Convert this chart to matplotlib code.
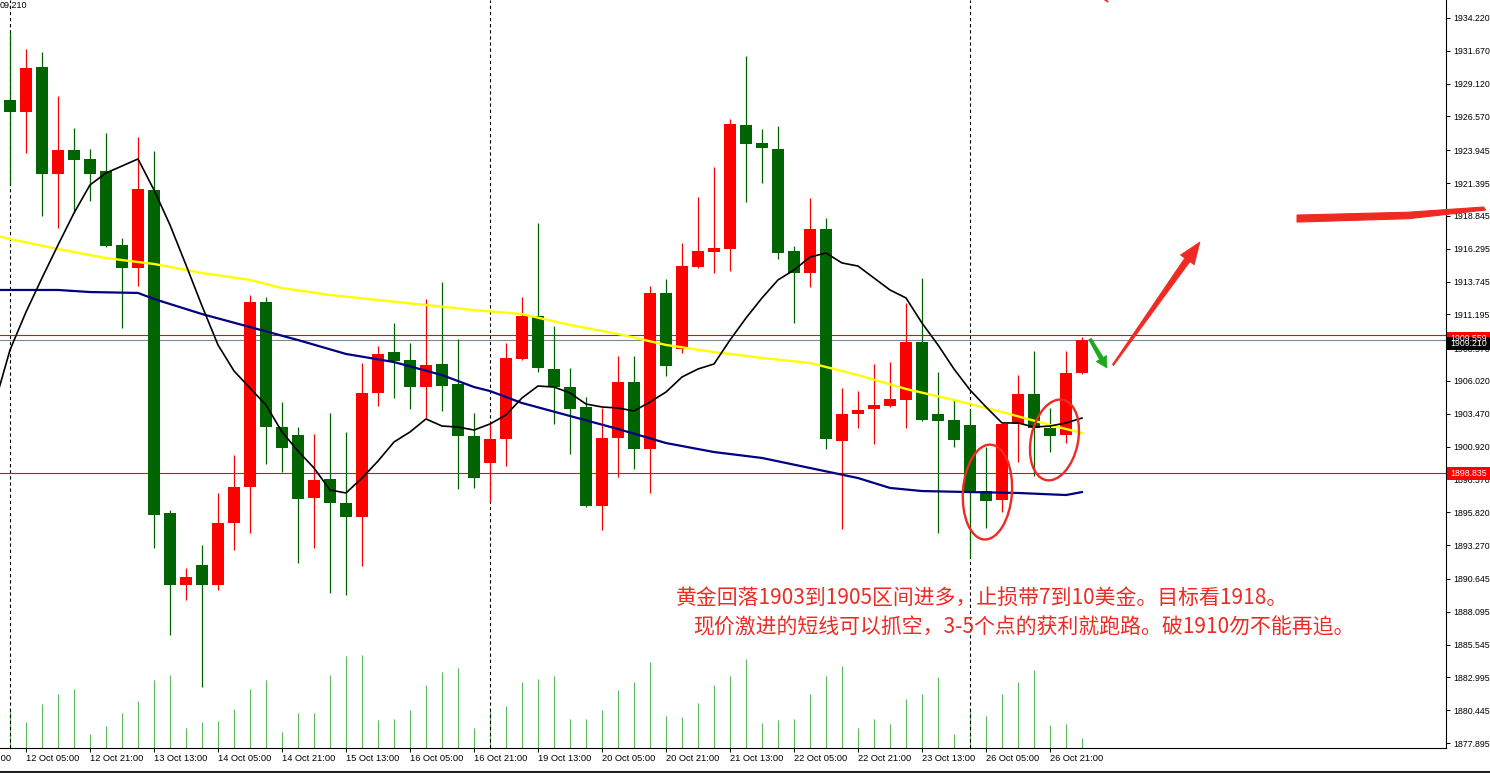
import matplotlib
matplotlib.use("Agg")
import matplotlib.pyplot as plt
from matplotlib.patches import Ellipse, Polygon, Rectangle
from matplotlib.lines import Line2D
from matplotlib.transforms import IdentityTransform, blended_transform_factory
import numpy as np

plt.rcParams['font.family'] = ['Liberation Sans', 'Noto Sans CJK SC', 'DejaVu Sans']

# ---------------- data (XAUUSD H4, 12 Oct 01:00 .. 27 Oct 05:00) ----------------
open_ = [1927.85, 1926.92, 1930.41, 1922.10, 1923.97, 1923.27, 1922.33, 1916.59, 1914.80, 1920.86,
         1895.77, 1890.17, 1891.72, 1890.17, 1894.99, 1897.79, 1912.16, 1902.44, 1901.82, 1896.93,
         1898.41, 1896.54, 1895.45, 1905.09, 1908.27, 1907.65, 1905.55, 1907.34, 1905.79, 1901.75,
         1899.65, 1901.51, 1907.73, 1911.07, 1906.95, 1905.55, 1904.00, 1896.31, 1901.59, 1905.94,
         1900.74, 1912.86, 1908.51, 1914.88, 1916.04, 1916.27, 1925.91, 1924.51, 1924.04, 1916.12,
         1914.41, 1917.83, 1901.36, 1903.46, 1903.84, 1904.08, 1904.54, 1909.05, 1903.46, 1903.00,
         1902.60, 1897.47, 1896.77, 1902.68, 1905.01, 1902.37, 1901.82, 1906.64]
high = [1933.13, 1931.81, 1931.58, 1928.16, 1925.67, 1924.04, 1925.29, 1917.13, 1924.98, 1923.89,
        1896.00, 1891.49, 1893.27, 1897.32, 1900.27, 1912.70, 1912.55, 1904.39, 1902.44, 1901.90,
        1903.53, 1902.06, 1907.42, 1908.74, 1910.53, 1908.97, 1912.39, 1913.71, 1909.28, 1903.53,
        1902.76, 1908.97, 1912.55, 1918.29, 1910.29, 1907.03, 1904.77, 1903.92, 1907.96, 1907.96,
        1913.40, 1913.94, 1916.74, 1920.32, 1922.64, 1926.37, 1931.27, 1925.60, 1925.83, 1916.51,
        1920.24, 1918.68, 1905.48, 1905.24, 1907.34, 1907.49, 1912.08, 1914.02, 1906.72, 1904.54,
        1903.84, 1900.89, 1902.68, 1906.49, 1908.35, 1903.92, 1908.35, 1909.44]
low = [1921.25, 1923.73, 1918.84, 1917.91, 1919.07, 1920.00, 1916.43, 1910.14, 1913.40, 1893.04,
       1886.29, 1889.01, 1882.25, 1889.78, 1892.89, 1894.21, 1899.57, 1898.95, 1891.88, 1893.04,
       1889.55, 1889.40, 1891.65, 1904.08, 1904.70, 1903.84, 1903.15, 1903.69, 1897.63, 1897.71,
       1896.62, 1899.42, 1907.65, 1906.72, 1902.68, 1900.35, 1896.20, 1894.44, 1898.56, 1899.18,
       1897.32, 1906.41, 1908.20, 1914.80, 1914.41, 1914.57, 1919.93, 1921.40, 1915.50, 1910.53,
       1913.32, 1900.74, 1894.52, 1902.37, 1901.13, 1904.00, 1902.37, 1902.90, 1894.21, 1900.89,
       1892.27, 1894.60, 1895.84, 1899.73, 1898.64, 1900.50, 1901.20, 1906.60]
close = [1926.92, 1930.34, 1922.10, 1923.97, 1923.19, 1922.10, 1916.51, 1914.80, 1920.94, 1895.61,
         1890.17, 1890.79, 1890.17, 1894.99, 1897.79, 1912.16, 1902.44, 1900.81, 1896.85, 1898.33,
         1896.54, 1895.45, 1905.09, 1908.12, 1907.57, 1905.55, 1907.26, 1905.63, 1901.75, 1898.48,
         1901.51, 1907.81, 1911.07, 1907.03, 1905.55, 1903.84, 1896.31, 1901.59, 1905.94, 1900.74,
         1912.86, 1907.19, 1914.95, 1916.12, 1916.35, 1925.98, 1924.43, 1924.12, 1915.96, 1914.41,
         1917.83, 1901.51, 1903.46, 1903.77, 1904.15, 1904.62, 1909.05, 1903.00, 1902.91, 1901.44,
         1897.40, 1896.70, 1902.68, 1905.01, 1902.37, 1901.75, 1906.64, 1909.21]
volume = [38, 26, 44, 54, 59, 14, 22, 35, 47, 68, 73, 20, 26, 27, 39, 59, 68, 16, 35, 35,
          73, 92, 93, 28, 29, 38, 63, 76, 80, 20, 37, 42, 66, 69, 72, 29, 29, 38, 58, 66,
          86, 32, 31, 45, 63, 72, 89, 25, 28, 29, 54, 72, 82, 20, 29, 24, 49, 54, 71, 14,
          38, 32, 54, 66, 78, 23, 24, 10]

# fast moving average (black), bars -1 .. 67
ma_fast_bars = list(range(-1, 68))
ma_fast = [1904.08,
           1908.43, 1911.38, 1914.02, 1916.58, 1919.07, 1921.25, 1922.18, 1922.72, 1923.27, 1920.86,
           1918.14, 1915.03, 1911.85, 1908.82, 1906.80, 1905.47, 1904.15, 1902.06, 1900.58, 1899.26,
           1897.55, 1897.32, 1898.48, 1899.80, 1901.28, 1902.06, 1903.07, 1902.52, 1902.44, 1902.21,
           1902.68, 1903.38, 1904.70, 1905.63, 1905.55, 1905.09, 1904.23, 1904.00, 1903.92, 1903.69,
           1904.39, 1905.16, 1906.33, 1906.95, 1907.34, 1909.20, 1910.91, 1912.47, 1913.87, 1914.64,
           1915.65, 1915.96, 1915.19, 1914.95, 1914.02, 1913.09, 1912.47, 1910.52, 1908.82, 1906.95,
           1905.32, 1904.00, 1902.76, 1902.76, 1902.44, 1902.52, 1902.76, 1903.14]

# slow moving average (yellow)
ma_yellow_bars = [-1, 0, 3, 6, 9, 12, 15, 17, 20, 23, 26, 29, 32, 35, 38, 41, 44, 47, 50, 53,
                  56, 59, 62, 65, 67]
ma_yellow = [1917.36, 1917.05, 1916.27, 1915.57, 1915.11, 1914.41, 1913.87, 1913.24, 1912.70,
             1912.31, 1911.92, 1911.53, 1911.22, 1910.37, 1909.67, 1908.82, 1908.27, 1907.81,
             1907.42, 1906.48, 1905.40, 1904.54, 1903.61, 1902.60, 1901.98]

# medium moving average (navy)
ma_navy_bars = [-1, 3, 5, 8, 9, 12, 15, 18, 21, 24, 27, 29, 30, 32, 35, 38, 41, 44, 47, 50,
                53, 55, 57, 60, 63, 66, 67]
ma_navy = [1913.09, 1913.09, 1912.93, 1912.86, 1912.39, 1911.22, 1910.21, 1909.20, 1908.12,
           1907.49, 1906.48, 1905.55, 1905.24, 1904.31, 1903.30, 1902.29, 1901.20, 1900.50,
           1900.04, 1899.26, 1898.48, 1897.71, 1897.47, 1897.39, 1897.32, 1897.16, 1897.39]

tick_bars = [-3, 1, 5, 9, 13, 17, 21, 25, 29, 33, 37, 41, 45, 49, 53, 57, 61, 65]
tick_labels = ["9 Oct 13:00", "12 Oct 05:00", "12 Oct 21:00", "13 Oct 13:00", "14 Oct 05:00",
               "14 Oct 21:00", "15 Oct 13:00", "16 Oct 05:00", "16 Oct 21:00", "19 Oct 13:00",
               "20 Oct 05:00", "20 Oct 21:00", "21 Oct 13:00", "22 Oct 05:00", "22 Oct 21:00",
               "23 Oct 13:00", "26 Oct 05:00", "26 Oct 21:00"]
price_ticks = [1934.220, 1931.670, 1929.120, 1926.570, 1923.945, 1921.395, 1918.845, 1916.295,
               1913.745, 1911.195, 1908.570, 1906.020, 1903.470, 1900.920, 1898.370, 1895.820,
               1893.270, 1890.645, 1888.095, 1885.545, 1882.995, 1880.445, 1877.895]
week_separators = [0, 30, 60]
ask_price = 1909.559
bid_price = 1909.210
level_price = 1898.835

note_lines = ["黄金回落1903到1905区间进多，止损带7到10美金。目标看1918。",
              "现价激进的短线可以抓空，3-5个点的获利就跑路。破1910勿不能再追。"]

# ---------------- styling ----------------
W, H, DPI = 1490, 773, 100
RED = '#ff0000'
GREEN = '#006400'
VOLC = '#5cb85c'
PEN = '#ee2a22'

fig = plt.figure(figsize=(W / DPI, H / DPI), dpi=DPI)
fig.patch.set_facecolor('white')
ax = fig.add_axes([0, 25 / H, 1446 / W, 748 / H])
ax.set_facecolor('white')
ax.set_xlim(-0.625, 89.75)
ax.set_ylim(1877.507, 1935.618)

for s in ('left', 'top'):
    ax.spines[s].set_visible(False)
for s in ('right', 'bottom'):
    ax.spines[s].set_color('black')
    ax.spines[s].set_linewidth(0.8)

o = np.array(open_); h = np.array(high); l = np.array(low); c = np.array(close)
x = np.arange(len(c))
cols = np.where(c >= o, RED, GREEN)

# volumes (overlay at the bottom, 1 unit = 1 px of axes height)
vtrans = blended_transform_factory(ax.transData, ax.transAxes)
ax.vlines(x, 0, np.array(volume) / 748.0, transform=vtrans, colors=VOLC, lw=0.8, zorder=1)

# separators
for b in week_separators:
    ax.axvline(b, color='black', lw=0.8, linestyle=(0, (3, 2.5)), zorder=1.5)

# horizontal lines
ax.axhline(ask_price, color=RED, lw=0.8, zorder=1.6)
ax.axhline(bid_price, color='#7a8a99', lw=0.8, zorder=1.6)
ax.axhline(level_price, color=RED, lw=0.8, zorder=1.6)

# candles
ax.vlines(x, l, h, colors=cols, lw=0.9, zorder=2)
body_lo = np.minimum(o, c)
body_h = np.maximum(np.abs(c - o), 0.09)
ax.bar(x, body_h, bottom=body_lo, width=0.7, color=cols, linewidth=0, zorder=3)

# moving averages
ax.plot(ma_yellow_bars, ma_yellow, color='#ffff00', lw=1.7, zorder=4, solid_joinstyle='round')
ax.plot(ma_navy_bars, ma_navy, color='#000080', lw=1.6, zorder=4, solid_joinstyle='round')
ax.plot(ma_fast_bars, ma_fast, color='black', lw=1.2, zorder=5, solid_joinstyle='round')

# axes ticks
ax.yaxis.tick_right()
ax.set_yticks(price_ticks)
ax.set_yticklabels([f"{v:.3f}" for v in price_ticks])
ax.tick_params(axis='y', direction='out', length=3, width=0.7, pad=2.5, labelsize=6.3, colors='black')
ax.set_xticks(tick_bars[1:])
ax.set_xticklabels(tick_labels[1:])
for t in ax.get_xticklabels():
    t.set_ha('left')
ax.tick_params(axis='x', direction='out', length=3, width=0.7, pad=1.2, labelsize=6.7, colors='black')
ax.annotate(tick_labels[0], xy=(tick_bars[0], 0), xycoords=ax.get_xaxis_transform(),
            xytext=(1, -4.2), textcoords='offset points', ha='left', va='top',
            fontsize=6.7, annotation_clip=False)

fig.canvas.draw()
ID = IdentityTransform()


def disp(bx, py):
    return ax.transData.transform((bx, py))


# price label boxes on the right axis
def price_box(price, fc, txt, dy=0.0):
    _, yd = disp(0, price)
    yd += dy
    fig.add_artist(Rectangle((1447, yd - 6.5), 43, 13, transform=ID, fc=fc, ec='none', zorder=10))
    fig.text(1450, yd, txt, transform=ID, ha='left', va='center', color='white', fontsize=6.3, zorder=11)


price_box(ask_price, RED, f"{ask_price:.3f}", dy=-3.0)
price_box(bid_price, 'black', f"{bid_price:.3f}", dy=-3.5)
price_box(level_price, RED, f"{level_price:.3f}")

# title fragment at the top-left
fig.text(0, H - 1, "09,210", transform=ID, ha='left', va='top', fontsize=6.5, color='black')

# ---------------- hand-drawn annotations ----------------
def ellipse(bx, py, w, hgt, ang):
    cx, cy = disp(bx, py)
    fig.add_artist(Ellipse((cx, cy), w, hgt, angle=ang, transform=ID, fill=False,
                           ec=PEN, lw=1.7, zorder=8))


ellipse(61.09, 1897.39, 49, 95, -4)
ellipse(65.28, 1901.44, 47, 82, -12)


def arrow(tail, tip, t_w, s_w, h_w, h_len, color):
    T = np.array(disp(*tail)); P = np.array(disp(*tip))
    d = (P - T) / np.linalg.norm(P - T)
    n = np.array([-d[1], d[0]])
    base = P - d * h_len
    pts = [T + n * t_w, base + n * s_w, base + n * h_w, P, base - n * h_w, base - n * s_w, T - n * t_w]
    fig.add_artist(Polygon(pts, closed=True, transform=ID, fc=color, ec=color, lw=0.5, zorder=9))


arrow((68.94, 1907.26), (74.375, 1916.82), 0.8, 3.2, 8.5, 22, PEN)
arrow((67.5, 1909.28), (68.56, 1907.03), 1.5, 2.2, 6.0, 11, '#1fa81f')

# brush stroke marking the target level
L = np.array(disp(80.44, 1918.60)); R = np.array(disp(92.1, 1919.38))
Mid = np.array(disp(87.4, 1918.86))
stroke = [L + [0, 4.0], Mid + [0, 3.5], R + [0, 2.0], R + [2, -1.0], Mid + [0, -3.0], L + [0, -3.0]]
fig.add_artist(Polygon(stroke, closed=True, transform=ID, fc=PEN, ec=PEN, lw=0.8, zorder=9))

# small pen mark at the top edge
top_mark = [disp(68.45, 1935.62), disp(68.6, 1935.50)]
fig.add_artist(Line2D([top_mark[0][0], top_mark[1][0]], [top_mark[0][1], top_mark[1][1]],
                      transform=ID, color=PEN, lw=1.2, zorder=9))

# Chinese comment
ax.text(41.6, 1889.16, note_lines[0], color=PEN, fontsize=15, ha='left', va='center',
        family=['Noto Sans CJK SC', 'DejaVu Sans'], zorder=7)
ax.text(42.69, 1886.91, note_lines[1], color=PEN, fontsize=15, ha='left', va='center',
        family=['Noto Sans CJK SC', 'DejaVu Sans'], zorder=7)

# window border at the very bottom
fig.add_artist(Line2D([0, W], [1, 1], transform=ID, color='#202020', lw=1.5))

fig.savefig('out.png', dpi=DPI, facecolor='white')
